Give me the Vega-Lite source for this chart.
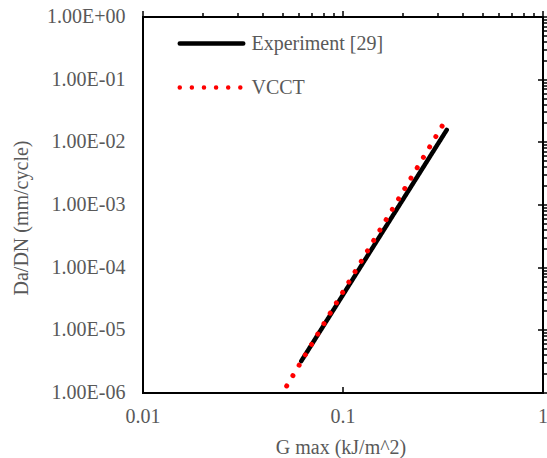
{
  "$schema": "https://vega.github.io/schema/vega-lite/v6.json",
  "width": 400,
  "height": 376,
  "autosize": "none",
  "padding": {"left": 142.5, "top": 16.5, "right": 4.5, "bottom": 65.5},
  "background": "white",
  "config": {
    "view": {"stroke": null},
    "font": "Liberation Serif, Times New Roman, serif",
    "axis": {
      "labelFont": "Liberation Serif, Times New Roman, serif",
      "titleFont": "Liberation Serif, Times New Roman, serif",
      "labelColor": "#595959",
      "titleColor": "#595959",
      "titleFontWeight": "normal",
      "labelFontSize": 20,
      "titleFontSize": 20,
      "domainColor": "black",
      "domainWidth": 2,
      "domainCap": "square",
      "tickColor": "black",
      "tickWidth": 1.5,
      "grid": false
    },
    "legend": {
      "labelFont": "Liberation Serif, Times New Roman, serif",
      "labelFontSize": 20,
      "labelColor": "#595959",
      "padding": 0
    }
  },
  "datasets": {
    "curves": [
      {"series": "Experiment [29]", "g": 0.0622, "rate": 3.17e-6},
      {"series": "Experiment [29]", "g": 0.332, "rate": 1.55e-2},
      {"series": "VCCT", "g": 0.0526, "rate": 1.27e-6},
      {"series": "VCCT", "g": 0.317, "rate": 1.85e-2}
    ]
  },
  "layer": [
    {
      "data": {"name": "curves"},
      "transform": [{"filter": "datum.series == 'Experiment [29]'"}],
      "mark": {"type": "line", "strokeWidth": 4.5, "strokeCap": "round"},
      "encoding": {
        "x": {
          "field": "g", "type": "quantitative",
          "scale": {"type": "log", "domain": [0.01, 1]},
          "axis": {
            "orient": "bottom", "values": [0.01, 0.1, 1], "format": "~g",
            "ticks": false, "tickSize": 0, "labelPadding": 14,
            "labelFlush": false, "labelBound": false, "labelOverlap": false,
            "title": "G max (kJ/m^2)", "titleX": 198, "titleY": 54.5,
            "titleBaseline": "middle", "titleAlign": "center"
          }
        },
        "y": {
          "field": "rate", "type": "quantitative",
          "scale": {"type": "log", "domain": [1e-6, 1]},
          "axis": {
            "orient": "left",
            "values": [1e-6, 1e-5, 1e-4, 1e-3, 1e-2, 1e-1, 1],
            "labelExpr": "datum.value >= 1 ? '1.00E+00' : '1.00E-0' + round(-log(datum.value)/LN10)",
            "ticks": false, "tickSize": 0, "labelPadding": 17.5,
            "labelFlush": false, "labelBound": false, "labelOverlap": false,
            "title": "Da/DN (mm/cycle)", "titleX": -121, "titleY": 201,
            "titleBaseline": "middle", "titleAlign": "center", "titleAngle": -90
          }
        },
        "color": {
          "field": "series", "type": "nominal",
          "scale": {"domain": ["Experiment [29]", "VCCT"], "range": ["black", "#ff0000"]},
          "legend": {
            "title": null, "orient": "none", "legendX": 35, "legendY": -7,
            "symbolType": "stroke", "symbolSize": 4032, "symbolStrokeWidth": 4.5,
            "labelOffset": 6, "rowPadding": 0,
            "encoding": {"symbols": {"strokeCap": {"value": "round"}}}
          }
        },
        "strokeDash": {
          "field": "series", "type": "nominal",
          "scale": {"domain": ["Experiment [29]", "VCCT"], "range": [[1, 0], [0.01, 12.1]]},
          "legend": {
            "title": null, "orient": "none", "legendX": 35, "legendY": -7,
            "symbolType": "stroke", "symbolSize": 4032, "symbolStrokeWidth": 4.5,
            "labelOffset": 6, "rowPadding": 0,
            "encoding": {"symbols": {"strokeCap": {"value": "round"}}}
          }
        }
      }
    },
    {
      "data": {"name": "curves"},
      "transform": [{"filter": "datum.series == 'VCCT'"}],
      "mark": {"type": "line", "strokeWidth": 5, "strokeCap": "round"},
      "encoding": {
        "x": {
          "field": "g", "type": "quantitative",
          "scale": {"type": "log", "domain": [0.01, 1]},
          "axis": {
            "orient": "top",
            "values": [0.01, 0.02, 0.03, 0.04, 0.05, 0.06, 0.07, 0.08, 0.09, 0.1, 0.2, 0.3, 0.4, 0.5, 0.6, 0.7, 0.8, 0.9, 1],
            "labels": false, "title": null,
            "tickSize": {"condition": {"test": "abs(log(datum.value)/LN10 - round(log(datum.value)/LN10)) < 0.001", "value": 6}, "value": 4},
            "grid": true, "gridColor": "black", "gridWidth": 1.5, "gridDash": [6, 2000],
            "gridOpacity": {"condition": {"test": "abs(log(datum.value)/LN10 - round(log(datum.value)/LN10)) < 0.001", "value": 1}, "value": 0}
          }
        },
        "y": {
          "field": "rate", "type": "quantitative",
          "scale": {"type": "log", "domain": [1e-6, 1]},
          "axis": {
            "orient": "right",
            "values": [1e-6, 2e-6, 3e-6, 4e-6, 5e-6, 6e-6, 7e-6, 8e-6, 9e-6,
                       1e-5, 2e-5, 3e-5, 4e-5, 5e-5, 6e-5, 7e-5, 8e-5, 9e-5,
                       1e-4, 2e-4, 3e-4, 4e-4, 5e-4, 6e-4, 7e-4, 8e-4, 9e-4,
                       1e-3, 2e-3, 3e-3, 4e-3, 5e-3, 6e-3, 7e-3, 8e-3, 9e-3,
                       1e-2, 2e-2, 3e-2, 4e-2, 5e-2, 6e-2, 7e-2, 8e-2, 9e-2,
                       1e-1, 2e-1, 3e-1, 4e-1, 5e-1, 6e-1, 7e-1, 8e-1, 9e-1, 1],
            "labels": false, "title": null,
            "tickSize": {"condition": {"test": "abs(log(datum.value)/LN10 - round(log(datum.value)/LN10)) < 0.001", "value": 5}, "value": 4},
            "grid": true, "gridColor": "black", "gridWidth": 1.5, "gridDash": [5, 2000],
            "gridOpacity": {"condition": {"test": "abs(log(datum.value)/LN10 - round(log(datum.value)/LN10)) < 0.001", "value": 1}, "value": 0}
          }
        },
        "color": {
          "field": "series", "type": "nominal",
          "scale": {"domain": ["Experiment [29]", "VCCT"], "range": ["black", "#ff0000"]},
          "legend": {
            "title": null, "orient": "none", "legendX": 35, "legendY": -7,
            "symbolType": "stroke", "symbolSize": 4032, "symbolStrokeWidth": 4.5,
            "labelOffset": 6, "rowPadding": 0,
            "encoding": {"symbols": {"strokeCap": {"value": "round"}}}
          }
        },
        "strokeDash": {
          "field": "series", "type": "nominal",
          "scale": {"domain": ["Experiment [29]", "VCCT"], "range": [[1, 0], [0.01, 12.1]]},
          "legend": {
            "title": null, "orient": "none", "legendX": 35, "legendY": -7,
            "symbolType": "stroke", "symbolSize": 4032, "symbolStrokeWidth": 4.5,
            "labelOffset": 6, "rowPadding": 0,
            "encoding": {"symbols": {"strokeCap": {"value": "round"}}}
          }
        }
      }
    }
  ],
  "resolve": {"axis": {"x": "independent", "y": "independent"}}
}
